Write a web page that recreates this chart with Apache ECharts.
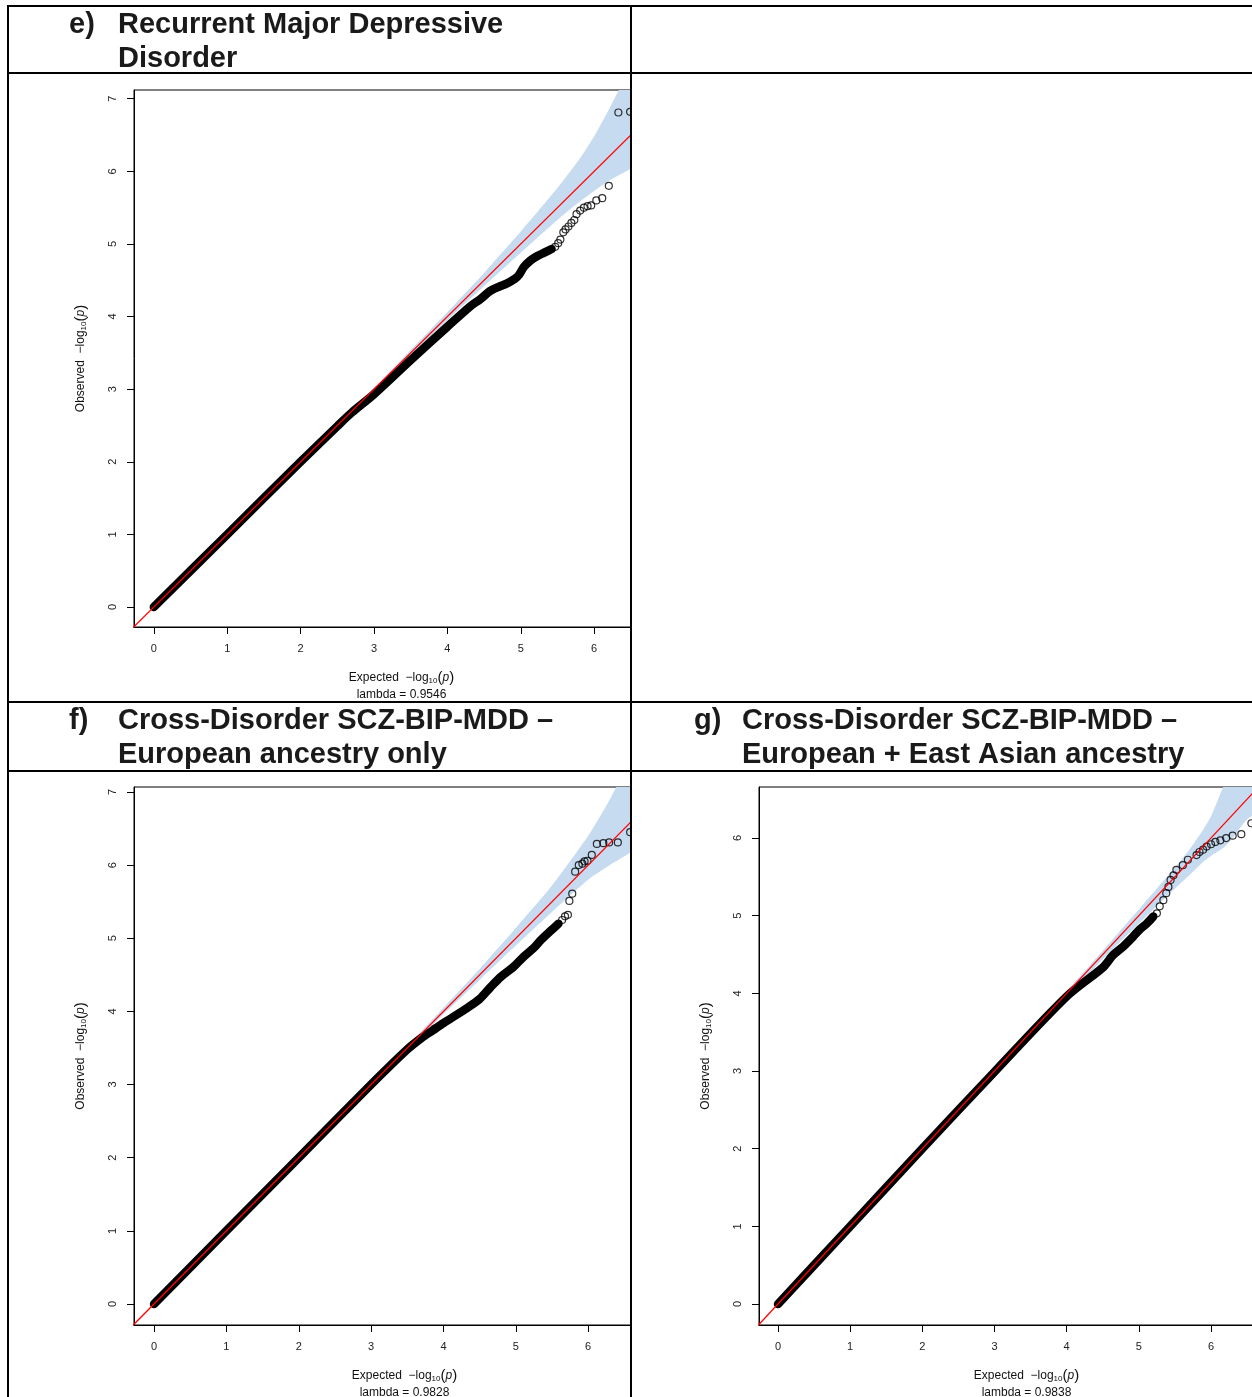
<!DOCTYPE html>
<html><head><meta charset="utf-8">
<script src="https://cdn.jsdelivr.net/npm/echarts@6/dist/echarts.min.js"></script>
<style>
html,body{margin:0;padding:0;background:#fff;width:1252px;height:1397px;overflow:hidden;}
.c{position:absolute;overflow:hidden;}
.ln{position:absolute;background:#000;z-index:10;}
</style></head><body>
<div id="pe" class="c" style="left:0;top:0;width:631px;height:702px"></div>
<div id="pf" class="c" style="left:0;top:702px;width:631px;height:695px"></div>
<div id="pg" class="c" style="left:631px;top:702px;width:621px;height:695px"></div>
<div class="ln" style="left:7px;top:5px;width:1245px;height:2px"></div>
<div class="ln" style="left:7px;top:72px;width:1245px;height:2px"></div>
<div class="ln" style="left:7px;top:701px;width:1245px;height:2px"></div>
<div class="ln" style="left:7px;top:770px;width:1245px;height:2px"></div>
<div class="ln" style="left:7px;top:5px;width:2px;height:1392px"></div>
<div class="ln" style="left:630px;top:5px;width:2px;height:1392px"></div>
<script>
// ---------------- data ----------------
const xTicks = [0, 1, 2, 3, 4, 5, 6];
const yTicksE = [0, 1, 2, 3, 4, 5, 6, 7];
const yTicksF = [0, 1, 2, 3, 4, 5, 6, 7];
const yTicksG = [0, 1, 2, 3, 4, 5, 6];

const tagE = 'e)', tagF = 'f)', tagG = 'g)';
const titleE = ['Recurrent Major Depressive', 'Disorder'];
const titleF = ['Cross-Disorder SCZ-BIP-MDD \u2013', 'European ancestry only'];
const titleG = ['Cross-Disorder SCZ-BIP-MDD \u2013', 'European + East Asian ancestry'];
const lambdaE = '0.9546', lambdaF = '0.9828', lambdaG = '0.9838';

// dense (overplotted) part of each QQ curve: [expected, observed]
const denseE = [[0,0],[1,1],[2,2],[2.5,2.49],[2.7,2.68],[3,2.93],[3.5,3.4],[4,3.86],[4.31,4.14],[4.45,4.24],[4.58,4.35],[4.7,4.41],[4.8,4.45],[4.92,4.52],[4.98,4.58],[5.04,4.68],[5.13,4.77],[5.22,4.83],[5.32,4.88],[5.42,4.93]];
const tailE = [[5.47,4.96],[5.51,5.01],[5.54,5.06],[5.58,5.16],[5.61,5.2],[5.65,5.24],[5.69,5.29],[5.73,5.33],[5.76,5.41],[5.81,5.46],[5.86,5.5],[5.91,5.52],[5.96,5.53],[6.03,5.6],[6.11,5.63],[6.2,5.8],[6.33,6.81],[6.49,6.82]];

const denseF = [[0,0],[1,1],[2,2],[3,3],[3.5,3.48],[3.7,3.64],[3.85,3.74],[4,3.84],[4.3,4.03],[4.5,4.17],[4.65,4.33],[4.79,4.47],[4.97,4.61],[5.11,4.75],[5.25,4.87],[5.34,4.97],[5.48,5.1],[5.59,5.2]];
const tailF = [[5.64,5.25],[5.68,5.3],[5.72,5.32],[5.74,5.51],[5.78,5.61],[5.82,5.91],[5.87,6.0],[5.92,6.02],[5.95,6.05],[5.99,6.06],[6.05,6.14],[6.12,6.29],[6.21,6.3],[6.29,6.31],[6.41,6.31],[6.58,6.45]];

const denseG = [[0,0],[1,1],[2,2],[3,2.99],[4,3.96],[4.51,4.34],[4.64,4.49],[4.78,4.6],[4.92,4.73],[5.01,4.82],[5.11,4.9],[5.2,4.99]];
const tailG = [[5.25,5.03],[5.29,5.12],[5.34,5.2],[5.38,5.29],[5.41,5.37],[5.44,5.46],[5.48,5.52],[5.52,5.59],[5.61,5.65],[5.68,5.72],[5.8,5.78],[5.84,5.82],[5.89,5.85],[5.94,5.89],[6.0,5.92],[6.06,5.95],[6.13,5.97],[6.21,6.0],[6.3,6.03],[6.42,6.05],[6.56,6.19]];

// 95% confidence band: expected, upper, lower
const bandXE = [0,1,2,3,3.5,4,4.5,5,5.5,5.8,6,6.2,6.4,6.6,6.8,7.1];
const bandUE = [0,1,2.01,3.02,3.54,4.06,4.6,5.17,5.77,6.17,6.48,6.85,7.25,7.7,8.2,9];
const bandLE = [0,1,1.99,2.98,3.47,3.95,4.42,4.88,5.33,5.58,5.73,5.87,5.98,6.08,6.2,6.35];

const bandXF = [0,2,3,3.5,4,4.5,5,5.5,6,6.3,6.6,6.93,7.2];
const bandUF = [0,2.01,3.02,3.53,4.05,4.58,5.14,5.72,6.4,6.9,7.5,8.3,9];
const bandLF = [0,1.99,2.98,3.47,3.96,4.43,4.9,5.36,5.8,6.0,6.18,6.4,6.6];

const bandXG = [0,2,3,4,4.5,5,5.5,5.7,5.9,6.0,6.17,6.3,6.5,6.8,7.1];
const bandUG = [0,2.01,3.02,4.03,4.55,5.08,5.62,5.85,6.12,6.28,6.66,6.95,7.4,8.0,8.7];
const bandLG = [0,1.99,2.98,3.96,4.44,4.9,5.35,5.52,5.7,5.77,5.87,6.0,6.24,6.4,6.55];

// ---------------- drawing ----------------
const FONT = "'Liberation Sans', Arial, Helvetica, sans-serif";
const TS = {fontFamily: FONT, fontSize: 29, fontWeight: 'bold', color: '#1a1a1a', lineHeight: 34};
const richName = {
  a: {fontFamily: FONT, fontSize: 12, color: '#111', lineHeight: 17},
  s: {fontFamily: FONT, fontSize: 8, color: '#111', lineHeight: 17, padding: [6, 0, 0, 0]},
  b: {fontFamily: FONT, fontSize: 15, color: '#111', lineHeight: 17},
  i: {fontFamily: FONT, fontSize: 12, fontStyle: 'italic', color: '#111', lineHeight: 17}
};
const axisName = '{a|Expected}{a|  \u2212log}{s|10}{b|(}{i|p}{b|)}';
const yName = '{a|Observed}{a|  \u2212log}{s|10}{b|(}{i|p}{b|)}';

function makePanel(id, c) {
  const chart = echarts.init(document.getElementById(id), null, {renderer: 'canvas'});
  chart.setOption({
    animation: false,
    backgroundColor: '#fff',
    title: [
      {text: c.tag, left: c.tagX, top: c.titleTop, padding: 0, textStyle: TS},
      {text: c.title.join('\n'), left: c.titleX, top: c.titleTop, padding: 0, textStyle: TS}
    ],
    grid: {left: c.g[0], top: c.g[1], width: c.g[2], height: c.g[3], show: true,
           borderColor: '#000', borderWidth: 1, containLabel: false, outerBoundsMode: 'none'},
    xAxis: {
      type: 'value', min: c.xr[0], max: c.xr[1],
      splitLine: {show: false},
      axisLine: {show: true, onZero: false, lineStyle: {color: '#000', width: 1}},
      axisTick: {show: true, length: 7, inside: false, customValues: xTicks, lineStyle: {color: '#000'}},
      axisLabel: {customValues: xTicks, margin: 16, fontSize: 11, fontFamily: FONT, color: '#222'},
      name: axisName + '\n{a|lambda = ' + c.lambda + '}',
      nameLocation: 'middle', nameGap: 42,
      nameTextStyle: {rich: richName, align: 'center'}
    },
    yAxis: {
      type: 'value', min: c.yr[0], max: c.yr[1],
      splitLine: {show: false},
      axisLine: {show: true, onZero: false, lineStyle: {color: '#000', width: 1}},
      axisTick: {show: true, length: 7, inside: false, customValues: c.yTicks, lineStyle: {color: '#000'}},
      axisLabel: {customValues: c.yTicks, margin: 16, rotate: 90, fontSize: 11, fontFamily: FONT, color: '#222'},
      name: yName, nameLocation: 'middle', nameGap: 45,
      nameTextStyle: {rich: richName}
    },
    series: [
      {
        type: 'custom', silent: true, clip: true, z: 1,
        data: [[0, 0]],
        renderItem: function (params, api) {
          const pts = [];
          for (let k = 0; k < c.bx.length; k++) pts.push(api.coord([c.bx[k], c.bu[k]]));
          for (let k = c.bx.length - 1; k >= 0; k--) pts.push(api.coord([c.bx[k], c.bl[k]]));
          return {type: 'polygon', shape: {points: pts, smooth: 0.2}, style: {fill: '#c6dbef', stroke: null}};
        }
      },
      {
        type: 'line', data: c.dense, symbol: 'none', silent: true, clip: true, z: 2, smooth: 0.3,
        lineStyle: {color: '#000', width: 8.5, cap: 'round', join: 'round'}
      },
      {
        type: 'scatter', data: c.tail, symbol: 'circle', symbolSize: 7, silent: true, clip: true, z: 3,
        itemStyle: {color: 'rgba(255,255,255,0)', borderColor: '#000', borderWidth: 1.2}
      },
      {
        type: 'line', data: [[-1, -1], [9, 9]], symbol: 'none', silent: true, clip: true, z: 4,
        lineStyle: {color: '#ff0000', width: 1.3}
      }
    ]
  });
}

makePanel('pe', {tag: tagE, title: titleE, tagX: 69, titleX: 118, titleTop: 8, lambda: lambdaE,
  g: [134, 90, 535, 537], xr: [-0.27, 7.02], yr: [-0.275, 7.12], yTicks: yTicksE,
  dense: denseE, tail: tailE, bx: bandXE, bu: bandUE, bl: bandLE});
makePanel('pf', {tag: tagF, title: titleF, tagX: 69, titleX: 118, titleTop: 2, lambda: lambdaF,
  g: [134, 85, 541, 538], xr: [-0.277, 7.2], yr: [-0.287, 7.068], yTicks: yTicksF,
  dense: denseF, tail: tailF, bx: bandXF, bu: bandUF, bl: bandLF});
makePanel('pg', {tag: tagG, title: titleG, tagX: 63, titleX: 111, titleTop: 2, lambda: lambdaG,
  g: [128, 85, 535, 538], xr: [-0.263, 7.15], yr: [-0.27, 6.657], yTicks: yTicksG,
  dense: denseG, tail: tailG, bx: bandXG, bu: bandUG, bl: bandLG});
</script>
</body></html>
